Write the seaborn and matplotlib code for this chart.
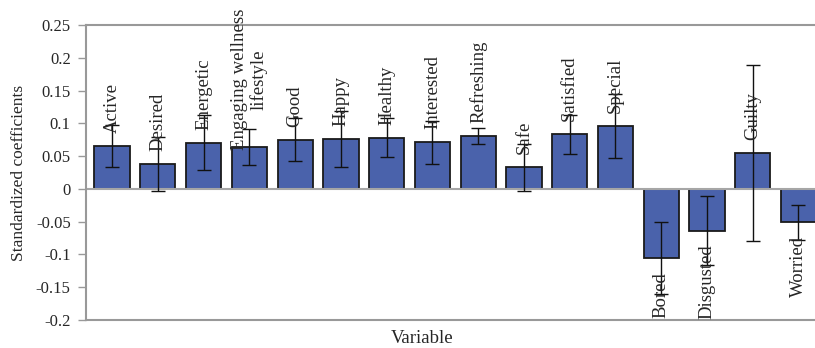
import pandas as pd
import matplotlib
matplotlib.use('Agg')
import matplotlib.pyplot as plt
import seaborn as sns
import numpy as np

variables = ['Active', 'Desired', 'Energetic', 'Engaging wellness\nlifestyle', 'Good',
             'Happy', 'Healthy', 'Interested', 'Refreshing', 'Safe', 'Satisfied',
             'Special', 'Bored', 'Disgusted', 'Guilty', 'Worried']
coefs = [0.065, 0.038, 0.0705, 0.0645, 0.075, 0.076, 0.078, 0.071, 0.081, 0.033,
         0.083, 0.0965, -0.106, -0.064, 0.055, -0.051]
errors = [0.032, 0.041, 0.042, 0.0275, 0.033, 0.043, 0.030, 0.0325, 0.0125, 0.036,
          0.030, 0.049, 0.055, 0.0525, 0.134, 0.027]
yticks = [-0.2, -0.15, -0.1, -0.05, 0, 0.05, 0.1, 0.15, 0.2, 0.25]
ytick_labels = ['-0.2', '-0.15', '-0.1', '-0.05', '0', '0.05', '0.1', '0.15', '0.2', '0.25']

df = pd.DataFrame({'Variable': variables, 'Coef': coefs, 'Err': errors})

sns.set_style('white')
plt.rcParams['font.family'] = ['Liberation Serif', 'DejaVu Serif']

fig = plt.figure(figsize=(8.15, 3.48), dpi=100)
ax = fig.add_axes([86/815, 28/348, 1 - 86/815 + 0.005, 295/348])

sns.barplot(data=df, x='Variable', y='Coef', color='#4a62ab', saturation=1,
            edgecolor='#1a1a1a', linewidth=1.3, width=0.77, errorbar=None, ax=ax)
ax.errorbar(x=np.arange(len(df)), y=df['Coef'], yerr=df['Err'], fmt='none',
            ecolor='#111111', elinewidth=1, capsize=5, capthick=1, zorder=4)
ax.axhline(0, color='#a6a6a6', lw=1.5, zorder=1)

texts = []
for i, row in df.iterrows():
    if row['Coef'] >= 0:
        t = ax.text(i, row['Coef'] + 0.02, row['Variable'], rotation=90,
                    ha='center', va='bottom', fontsize=13.5, multialignment='center',
                    linespacing=1.15, zorder=5)
    else:
        t = ax.text(i, row['Coef'] - 0.021, row['Variable'], rotation=90,
                    ha='center', va='top', fontsize=13.5, zorder=5)
    texts.append(t)

ax.set_xlim(-0.57, 15.45)
ax.set_ylim(-0.2, 0.25)
ax.set_yticks(yticks, ytick_labels, fontsize=12)
ax.set_xticks([])
ax.tick_params(axis='y', which='major', left=True, length=6, width=1,
               color='#999999', pad=5)
ax.set_ylabel('Standardized coefficients', fontsize=12.5)
ax.set_xlabel('Variable', fontsize=13.5)
ax.xaxis.set_label_coords(0.458, -0.035)
ax.yaxis.set_label_coords(-0.08, 0.5)

for s in ['left', 'bottom', 'top', 'right']:
    ax.spines[s].set_color('#999999')
    ax.spines[s].set_linewidth(1.5)

# keep labels inside the figure, like Excel does
fig.canvas.draw()
renderer = fig.canvas.get_renderer()
inv = ax.transData.inverted()
for t in texts:
    bb = t.get_window_extent(renderer)
    top_limit = fig.bbox.height - 9
    if bb.y1 > top_limit:
        shift = bb.y1 - top_limit
        x0, y0 = t.get_position()
        disp = ax.transData.transform((x0, y0))
        newy = inv.transform((disp[0], disp[1] - shift))[1]
        t.set_position((x0, newy))
    t.set_clip_on(False)

plt.savefig('out.png', dpi=100)
plt.close()
